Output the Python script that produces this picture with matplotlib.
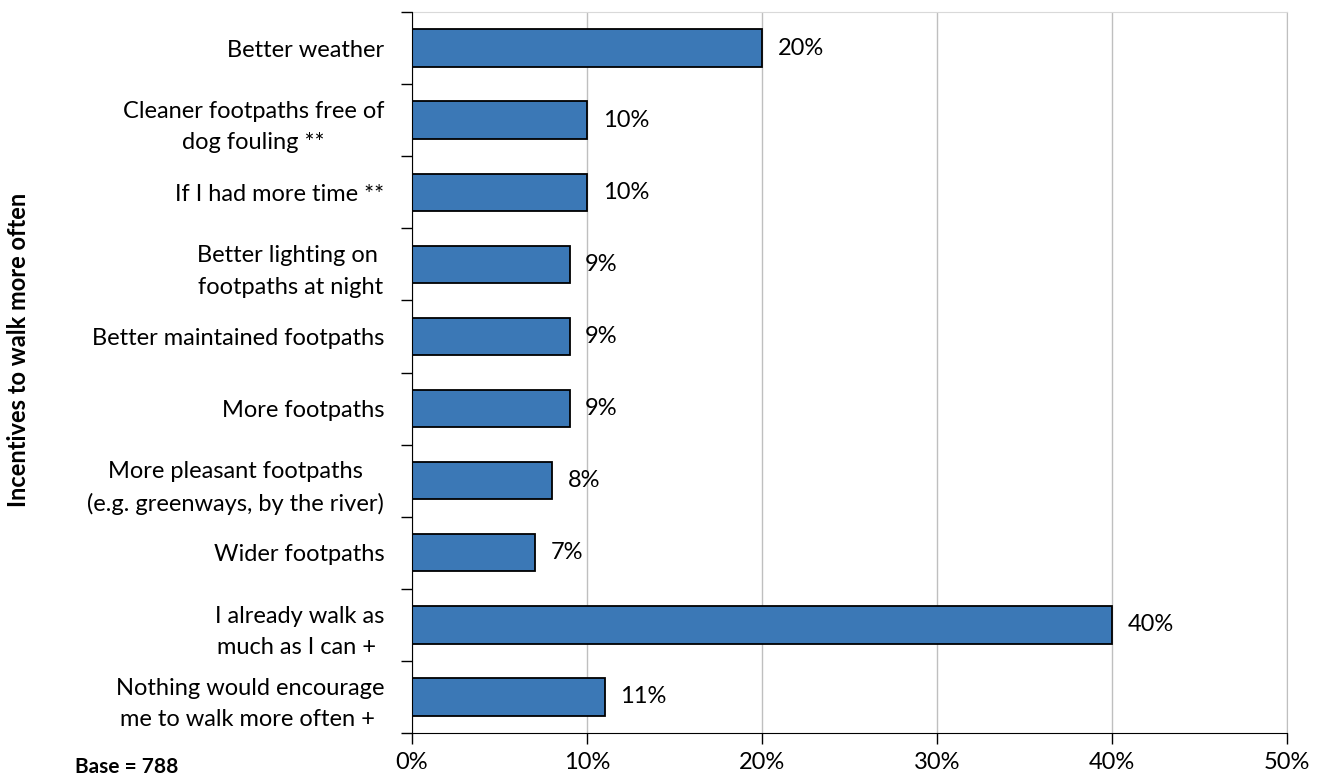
import matplotlib
matplotlib.use("Agg")
import matplotlib.pyplot as plt
from matplotlib.ticker import MultipleLocator, FuncFormatter

plt.rcParams['font.family'] = ['Lato', 'DejaVu Sans']

# categories, top to bottom as in the chart
categories = [
    "Better weather",
    "Cleaner footpaths free of\ndog fouling **",
    "If I had more time **",
    "Better lighting on \nfootpaths at night",
    "Better maintained footpaths",
    "More footpaths",
    "More pleasant footpaths\n(e.g. greenways, by the river)",
    "Wider footpaths",
    "I already walk as\nmuch as I can + ",
    "Nothing would encourage\nme to walk more often + ",
]
values = [20, 10, 10, 9, 9, 9, 8, 7, 40, 11]

bar_color = '#3B78B6'
fsize = 17

fig = plt.figure(figsize=(13.24, 7.78), dpi=100)
ax = fig.add_axes([412 / 1324, 1 - 733 / 778, 875 / 1324, (733 - 12) / 778])

ypos = list(range(len(categories)))
ax.barh(ypos, values, height=0.52, color=bar_color, edgecolor='black', linewidth=1.3, zorder=3)

for y, v in zip(ypos, values):
    ax.text(v + 0.9, y, f"{v}%", va='center', ha='left', fontsize=fsize, zorder=4)

ax.set_xlim(0, 50)
ax.set_ylim(len(categories) - 0.5, -0.5)
ax.xaxis.set_major_locator(MultipleLocator(10))
ax.xaxis.set_major_formatter(FuncFormatter(lambda x, p: f"{int(x)}%"))
ax.grid(axis='x', color='#BFBFBF', linewidth=1, zorder=0)

# category ticks at boundaries, labels in the middle
ax.set_yticks([y - 0.5 for y in ypos] + [len(categories) - 0.5])
ax.set_yticklabels([])
ax.set_yticks(ypos, minor=True)
ax.set_yticklabels(categories, minor=True, fontsize=fsize, multialignment='center',
                   linespacing=1.6)
ax.tick_params(axis='y', which='minor', length=0, pad=20)
ax.tick_params(axis='y', which='major', length=8, width=1, color='black')
ax.tick_params(axis='x', length=8, width=1, color='black', labelsize=fsize, pad=6)

ax.spines['left'].set_color('black')
ax.spines['bottom'].set_color('black')
ax.spines['top'].set_color('#D9D9D9')
ax.spines['right'].set_color('#BFBFBF')
ax.spines['left'].set_zorder(5)
ax.spines['bottom'].set_zorder(5)

fig.text(19 / 1324, 1 - 350 / 778, "Incentives to walk more often", rotation=90,
         ha='center', va='center', fontsize=fsize, fontweight='bold')
fig.text(127 / 1324, 1 - 767 / 778, "Base = 788", ha='center', va='center',
         fontsize=15, fontweight='bold')

fig.savefig("out.png", dpi=100)
